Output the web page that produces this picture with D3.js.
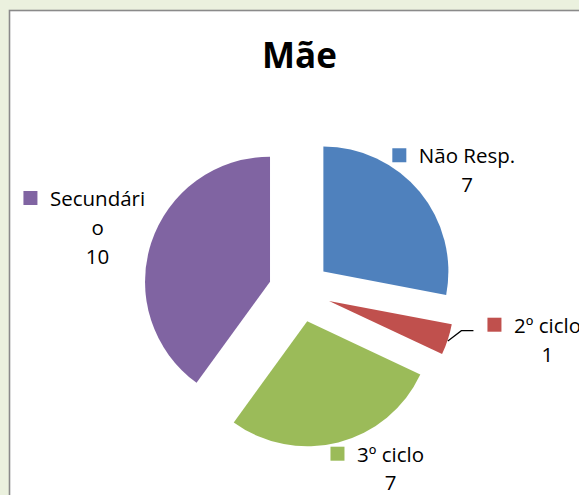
<!DOCTYPE html>
<html>
<head>
<meta charset="utf-8">
<script src="https://cdn.jsdelivr.net/npm/d3@7"></script>
<style>
  html, body { margin: 0; padding: 0; background: #ebf1de; }
  svg { display: block; }
</style>
</head>
<body>
<svg id="chart" width="579" height="495"></svg>
<script>
// ---- data ----
const categories = ["Não Resp.", "2º ciclo", "3º ciclo", "Secundário"];
const values = [7, 1, 7, 10];
const colors = ["#4f81bd", "#c0504d", "#9bbb59", "#8064a2"];
const labelLines = [["Não Resp."], ["2º ciclo"], ["3º ciclo"], ["Secundári", "o"]];
const title = "Mãe";

// ---- layout ----
const W = 579, H = 495;
const cx = 299.5, cy = 291.3;
const radius = 125;
const explode = 31;
const labelOffsets = [[47.3, -28.6], [99.6, -6.8], [52.2, 19.3], [-53.6, -37.1]];
const lineHeight = 28.8;
const fontFamily = "'Open Sans', sans-serif";

const svg = d3.select("#chart");

// chart area with border
svg.append("rect")
  .attr("x", 9.5).attr("y", 10.5)
  .attr("width", W + 20).attr("height", H + 20)
  .attr("fill", "#ffffff")
  .attr("stroke", "#8a8a8a")
  .attr("stroke-width", 1.6);

// title
svg.append("text")
  .attr("x", cx).attr("y", 67.5)
  .attr("text-anchor", "middle")
  .attr("font-family", fontFamily)
  .attr("font-weight", "bold")
  .attr("font-size", 35)
  .attr("fill", "#000")
  .text(title);

const data = categories.map((c, i) => ({ cat: c, value: values[i], color: colors[i], lines: labelLines[i], off: labelOffsets[i] }));

const pie = d3.pie().sort(null).value(d => d.value).startAngle(0).endAngle(2 * Math.PI);
const arcs = pie(data);
const arc = d3.arc().innerRadius(0).outerRadius(radius);

const g = svg.append("g").attr("transform", `translate(${cx},${cy})`);

arcs.forEach(a => {
  const mid = (a.startAngle + a.endAngle) / 2;
  a.mid = mid;
  a.dx = Math.sin(mid) * explode;
  a.dy = -Math.cos(mid) * explode;
  a.ox = Math.sin(mid) * (radius + explode);
  a.oy = -Math.cos(mid) * (radius + explode);
});

g.selectAll("path.slice")
  .data(arcs)
  .join("path")
  .attr("class", "slice")
  .attr("d", arc)
  .attr("transform", d => `translate(${d.dx},${d.dy})`)
  .attr("fill", d => d.data.color);

// labels
arcs.forEach((a, i) => {
  const lx = a.ox + a.data.off[0];
  const ly = a.oy + a.data.off[1];
  const lg = g.append("g");
  let firstW = 0;
  a.data.lines.concat([String(a.data.value)]).forEach((ln, k) => {
    const t = lg.append("text")
      .attr("x", lx)
      .attr("y", ly + k * lineHeight)
      .attr("text-anchor", "middle")
      .attr("font-family", fontFamily)
      .attr("font-size", 20.5)
      .attr("fill", "#000")
      .text(ln);
    if (k === 0) firstW = t.node().getComputedTextLength();
  });
  lg.append("rect")
    .attr("x", lx - firstW / 2 - 12.5 - 14)
    .attr("y", ly - 15)
    .attr("width", 14).attr("height", 14)
    .attr("fill", a.data.color);

  // leader line for small slice
  if (a.data.value / d3.sum(values) < 0.1) {
    const sx = a.ox, sy = a.oy + 1.5;
    const ex = lx - firstW / 2 - 12.5 - 14 - 14;
    g.append("polyline")
      .attr("points", [[sx, sy], [sx + 13.5, ly - 2], [ex, ly - 2]].map(p => p.join(",")).join(" "))
      .attr("fill", "none")
      .attr("stroke", "#000")
      .attr("stroke-width", 1.2);
  }
});
</script>
</body>
</html>
